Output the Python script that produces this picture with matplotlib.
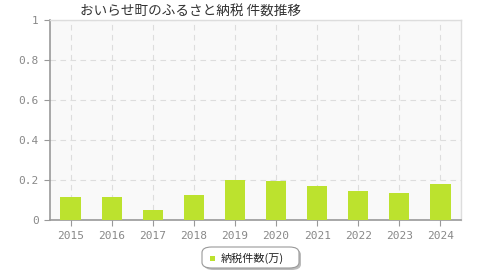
import matplotlib
matplotlib.use("Agg")
import matplotlib.pyplot as plt
from matplotlib.patches import FancyBboxPatch

plt.rcParams['font.family'] = ['Noto Sans CJK JP', 'DejaVu Sans']

years = ["2015", "2016", "2017", "2018", "2019", "2020", "2021", "2022", "2023", "2024"]
values = [0.115, 0.117, 0.05, 0.123, 0.20, 0.195, 0.17, 0.145, 0.133, 0.18]
yticks = [0, 0.2, 0.4, 0.6, 0.8, 1]
ytick_labels = ["0", "0.2", "0.4", "0.6", "0.8", "1"]
title = "おいらせ町のふるさと納税 件数推移"
legend_label = "納税件数(万)"

bar_color = "#bce22e"

fig = plt.figure(figsize=(4.8, 2.8), dpi=100)
ax = fig.add_axes([50/480, 1-220/280, 411/480, 200/280])
ax.set_facecolor("#f9f9f9")

x = list(range(len(years)))
ax.bar(x, values, width=0.49, color=bar_color, zorder=3)

ax.set_xlim(-0.5, len(years)-0.5)
ax.set_ylim(0, 1)
ax.set_yticks(yticks)
ax.set_yticklabels(ytick_labels, family='DejaVu Sans Mono', fontsize=8, color="#888888")
ax.set_xticks(x)
ax.set_xticklabels(years, family='DejaVu Sans Mono', fontsize=8, color="#888888")

ax.grid(True, axis='both', color="#dddddd", linestyle=(0, (5, 4)), linewidth=0.8, zorder=0)
for s in ['left', 'bottom']:
    ax.spines[s].set_color("#999999")
    ax.spines[s].set_linewidth(1.2)
for s in ['top', 'right']:
    ax.spines[s].set_color("#dddddd")
    ax.spines[s].set_linewidth(1.0)
ax.tick_params(axis='y', length=4, color="#999999", pad=4)
ax.tick_params(axis='x', length=4, color="#999999", pad=4)

fig.text(80/480, 1-12/280, title, fontsize=9.8, color="#333333", va='center', ha='left')

# legend box
lx0, ly0, lw, lh = 202, 247, 97, 21
box = FancyBboxPatch((lx0/480, 1-(ly0+lh)/280), lw/480, lh/280,
                     boxstyle="round,pad=0,rounding_size=0.02",
                     transform=fig.transFigure, facecolor="white",
                     edgecolor="#999999", linewidth=0.8, zorder=2)
shadow = FancyBboxPatch(((lx0+2)/480, 1-(ly0+lh+2)/280), lw/480, lh/280,
                        boxstyle="round,pad=0,rounding_size=0.02",
                        transform=fig.transFigure, facecolor="#bbbbbb",
                        edgecolor="none", zorder=1)
fig.patches.extend([shadow, box])
fig.patches.append(plt.Rectangle((210/480, 1-261/280), 5/480, 5/280,
                                 transform=fig.transFigure, facecolor=bar_color,
                                 edgecolor='none', zorder=3))
fig.text(221/480, 1-258/280, legend_label, fontsize=8, color="#222222",
         va='center', ha='left', zorder=4)

fig.savefig("out.png", dpi=100)
